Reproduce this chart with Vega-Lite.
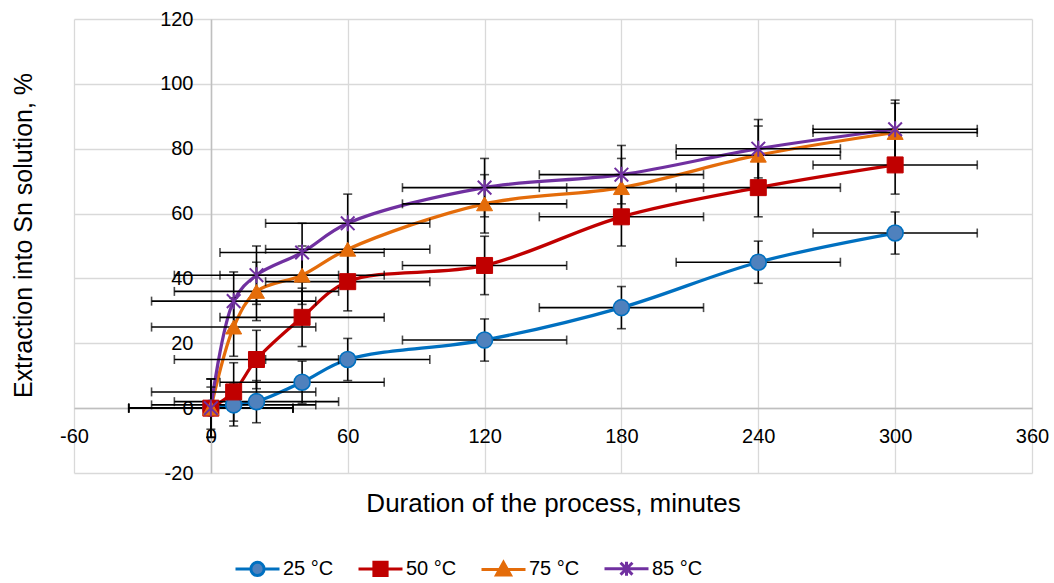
{
  "$schema": "https://vega.github.io/schema/vega-lite/v6.json",
  "width": 958,
  "height": 454,
  "autosize": {"type": "none"},
  "padding": {"left": 74, "top": 19, "right": 22, "bottom": 110},
  "background": "white",
  "config": {
    "font": "Liberation Sans",
    "view": {"stroke": null},
    "axis": {
      "grid": true,
      "gridColor": "#d9d9d9",
      "gridWidth": 1.3,
      "domainColor": "#bfbfbf",
      "domainWidth": 1.5,
      "ticks": false,
      "labelFontSize": 20,
      "labelColor": "#000000",
      "labelFont": "Liberation Sans",
      "labelFlush": false,
      "labelOverlap": false,
      "titleFont": "Liberation Sans",
      "titleFontSize": 25,
      "titleFontWeight": "normal",
      "titleColor": "#000000"
    }
  },
  "data": {
    "values": [
      {"s": "25 °C", "t": 0, "v": 0, "ex": 36, "ey": 6.5},
      {"s": "25 °C", "t": 10, "v": 1, "ex": 36, "ey": 6.5},
      {"s": "25 °C", "t": 20, "v": 2, "ex": 36, "ey": 6.5},
      {"s": "25 °C", "t": 40, "v": 8, "ex": 36, "ey": 6.5},
      {"s": "25 °C", "t": 60, "v": 15, "ex": 36, "ey": 6.5},
      {"s": "25 °C", "t": 120, "v": 21, "ex": 36, "ey": 6.5},
      {"s": "25 °C", "t": 180, "v": 31, "ex": 36, "ey": 6.5},
      {"s": "25 °C", "t": 240, "v": 45, "ex": 36, "ey": 6.5},
      {"s": "25 °C", "t": 300, "v": 54, "ex": 36, "ey": 6.5},
      {"s": "50 °C", "t": 0, "v": 0, "ex": 36, "ey": 9},
      {"s": "50 °C", "t": 10, "v": 5, "ex": 36, "ey": 9},
      {"s": "50 °C", "t": 20, "v": 15, "ex": 36, "ey": 9},
      {"s": "50 °C", "t": 40, "v": 28, "ex": 36, "ey": 9},
      {"s": "50 °C", "t": 60, "v": 39, "ex": 36, "ey": 9},
      {"s": "50 °C", "t": 120, "v": 44, "ex": 36, "ey": 9},
      {"s": "50 °C", "t": 180, "v": 59, "ex": 36, "ey": 9},
      {"s": "50 °C", "t": 240, "v": 68, "ex": 36, "ey": 9},
      {"s": "50 °C", "t": 300, "v": 75, "ex": 36, "ey": 9},
      {"s": "75 °C", "t": 0, "v": 0, "ex": 36, "ey": 9},
      {"s": "75 °C", "t": 10, "v": 25, "ex": 36, "ey": 9},
      {"s": "75 °C", "t": 20, "v": 36, "ex": 36, "ey": 9},
      {"s": "75 °C", "t": 40, "v": 41, "ex": 36, "ey": 9},
      {"s": "75 °C", "t": 60, "v": 49, "ex": 36, "ey": 9},
      {"s": "75 °C", "t": 120, "v": 63, "ex": 36, "ey": 9},
      {"s": "75 °C", "t": 180, "v": 68, "ex": 36, "ey": 9},
      {"s": "75 °C", "t": 240, "v": 78, "ex": 36, "ey": 9},
      {"s": "75 °C", "t": 300, "v": 85, "ex": 36, "ey": 9},
      {"s": "85 °C", "t": 0, "v": 0, "ex": 36, "ey": 9},
      {"s": "85 °C", "t": 10, "v": 33, "ex": 36, "ey": 9},
      {"s": "85 °C", "t": 20, "v": 41, "ex": 36, "ey": 9},
      {"s": "85 °C", "t": 40, "v": 48, "ex": 36, "ey": 9},
      {"s": "85 °C", "t": 60, "v": 57, "ex": 36, "ey": 9},
      {"s": "85 °C", "t": 120, "v": 68, "ex": 36, "ey": 9},
      {"s": "85 °C", "t": 180, "v": 72, "ex": 36, "ey": 9},
      {"s": "85 °C", "t": 240, "v": 80, "ex": 36, "ey": 9},
      {"s": "85 °C", "t": 300, "v": 86, "ex": 36, "ey": 9}
    ]
  },
  "encoding": {
    "x": {
      "field": "t",
      "type": "quantitative",
      "scale": {"domain": [-60, 360], "nice": false, "zero": false},
      "axis": {
        "values": [-60, 0, 60, 120, 180, 240, 300, 360],
        "labelExpr": "datum.value + ''",
        "offset": -65,
        "labelPadding": 18,
        "title": "Duration of the process, minutes",
        "titleFontSize": 26,
        "titleBaseline": "middle",
        "titleY": 95
      }
    },
    "y": {
      "field": "v",
      "type": "quantitative",
      "scale": {"domain": [-20, 120], "nice": false, "zero": false},
      "axis": {
        "values": [-20, 0, 20, 40, 60, 80, 100, 120],
        "labelExpr": "datum.value + ''",
        "offset": -137,
        "labelPadding": 18,
        "title": "Extraction into Sn solution, %",
        "titleBaseline": "middle",
        "titleX": -188,
        "titleY": 216
      }
    }
  },
  "layer": [
    {
      "mark": {"type": "line", "interpolate": "catmull-rom", "strokeWidth": 3.25},
      "encoding": {
        "color": {
          "field": "s",
          "type": "nominal",
          "scale": {"domain": ["25 °C", "50 °C", "75 °C", "85 °C"], "range": ["#0070C0", "#C00000", "#E46C0A", "#7030A0"]},
          "legend": {
            "orient": "none",
            "legendX": 160,
            "legendY": 526,
            "direction": "horizontal",
            "title": null,
            "symbolSize": 1936,
            "symbolStrokeWidth": 3,
            "labelFontSize": 20,
            "labelColor": "#000000",
            "labelOffset": 2,
            "columnPadding": 18,
            "encode": {
              "symbols": {
                "update": {
                  "shape": {"signal": "datum.value === '25 °C' ? 'M-1,0L-0.3,0M0.3,0L1,0M-0.3,0A0.3,0.3 0 1,0 0.3,0A0.3,0.3 0 1,0 -0.3,0Z' : datum.value === '50 °C' ? 'M-1,0L-0.3,0M0.3,0L1,0M-0.3,-0.3L0.3,-0.3L0.3,0.3L-0.3,0.3Z' : datum.value === '75 °C' ? 'M-1,0L-0.2,0M0.2,0L1,0M0,-0.32L0.32,0.26L-0.32,0.26Z' : 'M-1,0L1,0M-0.27,-0.27L0.27,0.27M-0.27,0.27L0.27,-0.27M0,-0.32L0,0.32'"},
                  "fill": {"signal": "datum.value === '25 °C' ? '#4F81BD' : datum.value === '50 °C' ? '#C00000' : datum.value === '75 °C' ? '#E46C0A' : 'transparent'"},
                  "stroke": {"signal": "datum.value === '25 °C' ? '#0070C0' : datum.value === '50 °C' ? '#C00000' : datum.value === '75 °C' ? '#E46C0A' : '#7030A0'"},
                  "strokeWidth": {"value": 3},
                  "opacity": {"value": 1}
                }
              }
            }
          }
        }
      }
    },
    {
      "mark": {"type": "errorbar", "ticks": {"size": 9, "thickness": 1.6, "color": "#000000"}, "rule": {"strokeWidth": 1.6, "color": "#000000"}},
      "encoding": {
        "xError": {"field": "ex"}
      }
    },
    {
      "mark": {"type": "errorbar", "ticks": {"size": 9, "thickness": 1.6, "color": "#000000"}, "rule": {"strokeWidth": 1.6, "color": "#000000"}},
      "encoding": {
        "yError": {"field": "ey"}
      }
    },
    {
      "transform": [{"filter": "datum.s === '25 °C'"}],
      "mark": {"type": "point", "shape": "circle", "filled": true, "size": 256, "fill": "#4F81BD", "stroke": "#0070C0", "strokeWidth": 1.6, "opacity": 1}
    },
    {
      "transform": [{"filter": "datum.s === '50 °C'"}],
      "mark": {"type": "point", "shape": "square", "filled": true, "size": 256, "fill": "#C00000", "stroke": "#C00000", "strokeWidth": 1, "opacity": 1}
    },
    {
      "transform": [{"filter": "datum.s === '75 °C'"}],
      "mark": {"type": "point", "shape": "triangle-up", "filled": true, "size": 256, "fill": "#E46C0A", "stroke": "#E46C0A", "strokeWidth": 1, "opacity": 1}
    },
    {
      "transform": [{"filter": "datum.s === '85 °C'"}],
      "mark": {"type": "point", "shape": "M-0.85,-0.85L0.85,0.85M-0.85,0.85L0.85,-0.85M0,-1L0,1", "filled": false, "size": 256, "stroke": "#7030A0", "strokeWidth": 2, "opacity": 1}
    }
  ]
}
